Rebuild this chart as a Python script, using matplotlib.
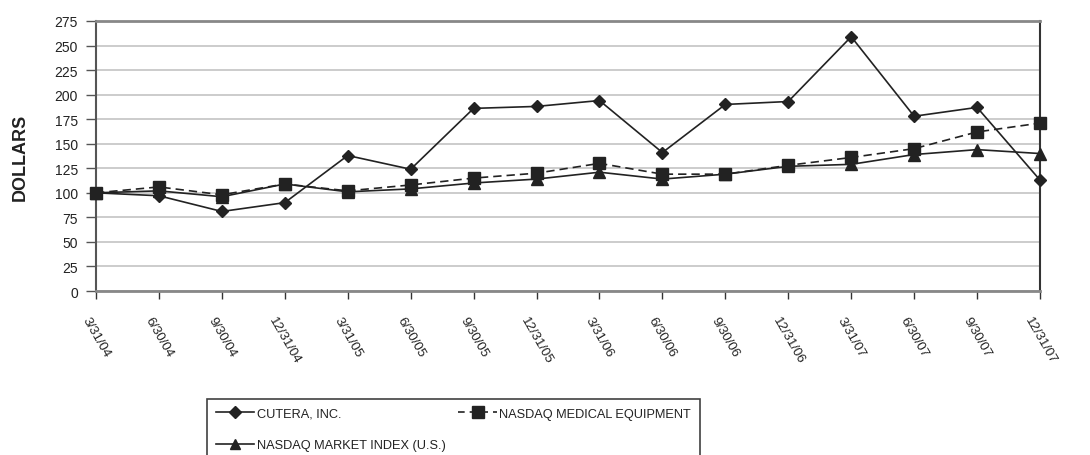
import matplotlib
matplotlib.use("Agg")
import matplotlib.pyplot as plt
from matplotlib.lines import Line2D

plt.rcParams['font.family'] = ['Liberation Sans', 'DejaVu Sans']

dates = ["3/31/04", "6/30/04", "9/30/04", "12/31/04", "3/31/05", "6/30/05",
         "9/30/05", "12/31/05", "3/31/06", "6/30/06", "9/30/06", "12/31/06",
         "3/31/07", "6/30/07", "9/30/07", "12/31/07"]
cutera = [100, 97, 81, 90, 138, 124, 186, 188, 194, 141, 190, 193, 259, 178, 187, 113]
nasdaq_medical = [100, 106, 98, 109, 102, 108, 115, 120, 130, 119, 119, 128, 136, 145, 162, 171]
nasdaq_market = [100, 102, 96, 109, 101, 104, 110, 114, 121, 114, 119, 127, 129, 139, 144, 140]
yticks = list(range(0, 276, 25))

fig = plt.figure(figsize=(10.9, 4.56), dpi=100)
ax = fig.add_axes([96/1090, 1 - 292/456, (1040 - 96)/1090, (292 - 22)/456])

x = list(range(len(dates)))
lc = '#222222'
ax.plot(x, nasdaq_market, color=lc, lw=1.2, marker='^', ms=8, mfc=lc, mec=lc, zorder=3, clip_on=False)
ax.plot(x, nasdaq_medical, color=lc, lw=1.2, ls=(0, (5, 3)), marker='s', ms=9, mfc=lc, mec=lc, zorder=4, clip_on=False)
ax.plot(x, cutera, color=lc, lw=1.2, marker='D', ms=6.5, mfc=lc, mec=lc, zorder=5, clip_on=False)

ax.set_xlim(0, len(dates) - 1)
ax.set_ylim(0, 275)
ax.set_yticks(yticks)
ax.set_yticklabels([str(v) for v in yticks], fontsize=10, color='#222222')
ax.set_xticks(x)
ax.set_xticklabels(dates, rotation=-60, ha='center', va='top', fontsize=9.5, color='#222222')
ax.tick_params(axis='x', length=6, width=1, color='#333333', pad=11)
ax.tick_params(axis='y', length=7, width=1, color='#555555', pad=6)

ax.grid(axis='y', color='#c8c8c8', lw=1.3, zorder=0)
ax.set_axisbelow(True)
for s in ['top', 'bottom']:
    ax.spines[s].set_color('#888888')
    ax.spines[s].set_linewidth(2)
ax.spines['left'].set_color('#555555')
ax.spines['left'].set_linewidth(1.5)
ax.spines['right'].set_color('#333333')
ax.spines['right'].set_linewidth(1.5)

fig.text(20/1090, 1 - 157/456, 'DOLLARS', rotation=90, ha='center', va='center',
         fontsize=13, fontweight='bold', color='#222222')

h1 = Line2D([], [], color=lc, lw=1.2, marker='D', ms=6, mfc=lc, mec=lc)
h2 = Line2D([], [], color=lc, lw=1.2, marker='^', ms=7, mfc=lc, mec=lc)
h3 = Line2D([], [], color=lc, lw=1.2, ls=(0, (4, 3)), marker='s', ms=8, mfc=lc, mec=lc)
leg = fig.legend([h1, h2, h3], ['CUTERA, INC.', 'NASDAQ MARKET INDEX (U.S.)', 'NASDAQ MEDICAL EQUIPMENT'],
                 ncol=2, loc='upper left', bbox_to_anchor=(207/1090, 1 - 400/456),
                 fontsize=9.2, frameon=True, fancybox=False, shadow=False,
                 handlelength=3.0, handletextpad=0.2, columnspacing=1.0,
                 borderpad=0.7, labelspacing=1.5, borderaxespad=0)
leg.get_frame().set_edgecolor('#111111')
leg.get_frame().set_linewidth(1.2)
for t in leg.get_texts():
    t.set_color('#222222')

fig.savefig('out.png', dpi=100)
